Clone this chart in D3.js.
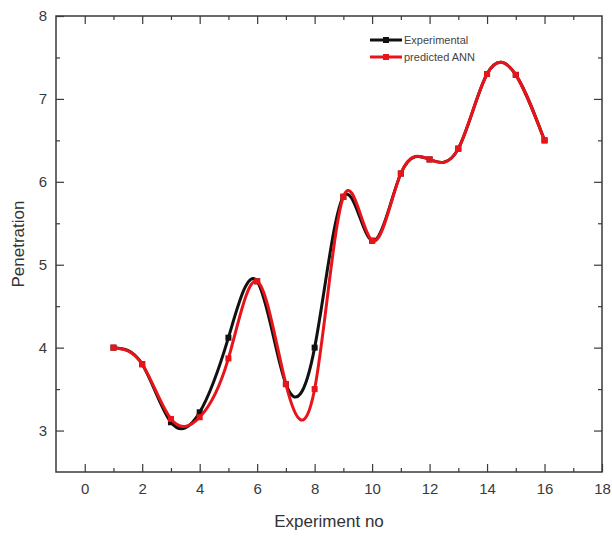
<!DOCTYPE html>
<html>
<head>
<meta charset="utf-8">
<script src="https://cdn.jsdelivr.net/npm/d3@7"></script>
<style>
  body { margin: 0; background: #fff; }
  svg { display: block; font-family: "Liberation Sans", Arial, sans-serif; }
</style>
</head>
<body>
<div id="chart"></div>
<script>
// DATA
const experimentNo = [1, 2, 3, 4, 5, 6, 7, 8, 9, 10, 11, 12, 13, 14, 15, 16];
const experimental = [4.0, 3.8, 3.1, 3.22, 4.12, 4.8, 3.56, 4.0, 5.82, 5.29, 6.1, 6.27, 6.4, 7.3, 7.29, 6.5];
const predictedANN = [4.0, 3.8, 3.14, 3.16, 3.87, 4.8, 3.56, 3.5, 5.82, 5.29, 6.1, 6.27, 6.4, 7.3, 7.29, 6.5];
const xTicks = [0, 2, 4, 6, 8, 10, 12, 14, 16, 18];
const xMinor = [1, 3, 5, 7, 9, 11, 13, 15, 17];
const yTicks = [3, 4, 5, 6, 7, 8];
const yMinor = [3.5, 4.5, 5.5, 6.5, 7.5];

const width = 612, height = 537;
const margin = { left: 56, right: 10, top: 16, bottom: 65 };
const axisColor = '#3a3a3a';

const svg = d3.select('#chart')
  .append('svg')
  .attr('width', width)
  .attr('height', height);

const x = d3.scaleLinear().domain([-1, 18]).range([margin.left, width - margin.right]);
const y = d3.scaleLinear().domain([2.5, 8]).range([height - margin.bottom, margin.top]);

// frame
svg.append('rect')
  .attr('x', x(-1)).attr('y', y(8))
  .attr('width', x(18) - x(-1)).attr('height', y(2.5) - y(8))
  .attr('fill', 'none').attr('stroke', axisColor).attr('stroke-width', 1.5);

function styleAxis(g) {
  g.select('.domain').remove();
  g.selectAll('line').attr('stroke', axisColor).attr('stroke-width', 1.2);
  g.selectAll('text').attr('fill', '#3a3a3a').style('font-size', '15px');
}

// bottom axis (inward ticks)
svg.append('g')
  .attr('transform', `translate(0, ${y(2.5)})`)
  .call(d3.axisBottom(x).tickValues(xTicks).tickSizeInner(-8).tickPadding(11).tickFormat(d3.format('d')))
  .call(styleAxis);
svg.append('g')
  .attr('transform', `translate(0, ${y(2.5)})`)
  .call(d3.axisBottom(x).tickValues(xMinor).tickSizeInner(-4).tickFormat(''))
  .call(styleAxis);

// top axis mirror
svg.append('g')
  .attr('transform', `translate(0, ${y(8)})`)
  .call(d3.axisTop(x).tickValues(xTicks.slice(0, -1)).tickSizeInner(-8).tickFormat(''))
  .call(styleAxis);
svg.append('g')
  .attr('transform', `translate(0, ${y(8)})`)
  .call(d3.axisTop(x).tickValues(xMinor).tickSizeInner(-4).tickFormat(''))
  .call(styleAxis);

// left axis
svg.append('g')
  .attr('transform', `translate(${x(-1)}, 0)`)
  .call(d3.axisLeft(y).tickValues(yTicks).tickSizeInner(-8).tickPadding(9).tickFormat(d3.format('d')))
  .call(styleAxis);
svg.append('g')
  .attr('transform', `translate(${x(-1)}, 0)`)
  .call(d3.axisLeft(y).tickValues(yMinor).tickSizeInner(-4).tickFormat(''))
  .call(styleAxis);

// right axis mirror
svg.append('g')
  .attr('transform', `translate(${x(18)}, 0)`)
  .call(d3.axisRight(y).tickValues(yTicks.slice(0, -1)).tickSizeInner(-8).tickFormat(''))
  .call(styleAxis);
svg.append('g')
  .attr('transform', `translate(${x(18)}, 0)`)
  .call(d3.axisRight(y).tickValues(yMinor).tickSizeInner(-4).tickFormat(''))
  .call(styleAxis);

// axis titles
svg.append('text')
  .attr('x', (x(-1) + x(18)) / 2).attr('y', 527)
  .attr('text-anchor', 'middle')
  .attr('fill', '#333').style('font-size', '17px')
  .text('Experiment no');

svg.append('text')
  .attr('transform', `translate(24, ${(y(8) + y(2.5)) / 2}) rotate(-90)`)
  .attr('text-anchor', 'middle')
  .attr('fill', '#333').style('font-size', '17px')
  .text('Penetration');

// series
const series = [
  { name: 'Experimental', values: experimental, color: '#111' },
  { name: 'predicted ANN', values: predictedANN, color: '#e8141a' }
];

const line = d3.line()
  .x(d => x(d[0]))
  .y(d => y(d[1]))
  .curve(d3.curveNatural);

series.forEach(s => {
  const pts = experimentNo.map((n, i) => [n, s.values[i]]);
  svg.append('path')
    .datum(pts)
    .attr('d', line)
    .attr('fill', 'none')
    .attr('stroke', s.color)
    .attr('stroke-width', 3);
  svg.append('g')
    .selectAll('rect')
    .data(pts)
    .enter()
    .append('rect')
      .attr('x', d => x(d[0]) - 3)
      .attr('y', d => y(d[1]) - 3)
      .attr('width', 6).attr('height', 6)
      .attr('fill', s.color);
});

// legend
const legend = svg.append('g').attr('transform', 'translate(370, 40)');
series.forEach((s, i) => {
  const g = legend.append('g').attr('transform', `translate(0, ${i * 17})`);
  g.append('line')
    .attr('x1', 0).attr('x2', 32)
    .attr('stroke', s.color).attr('stroke-width', 3);
  g.append('rect')
    .attr('x', 13).attr('y', -3).attr('width', 6).attr('height', 6)
    .attr('fill', s.color);
  g.append('text')
    .attr('x', 34).attr('y', 4)
    .attr('fill', '#444').style('font-size', '11px')
    .text(s.name);
});
</script>
</body>
</html>
